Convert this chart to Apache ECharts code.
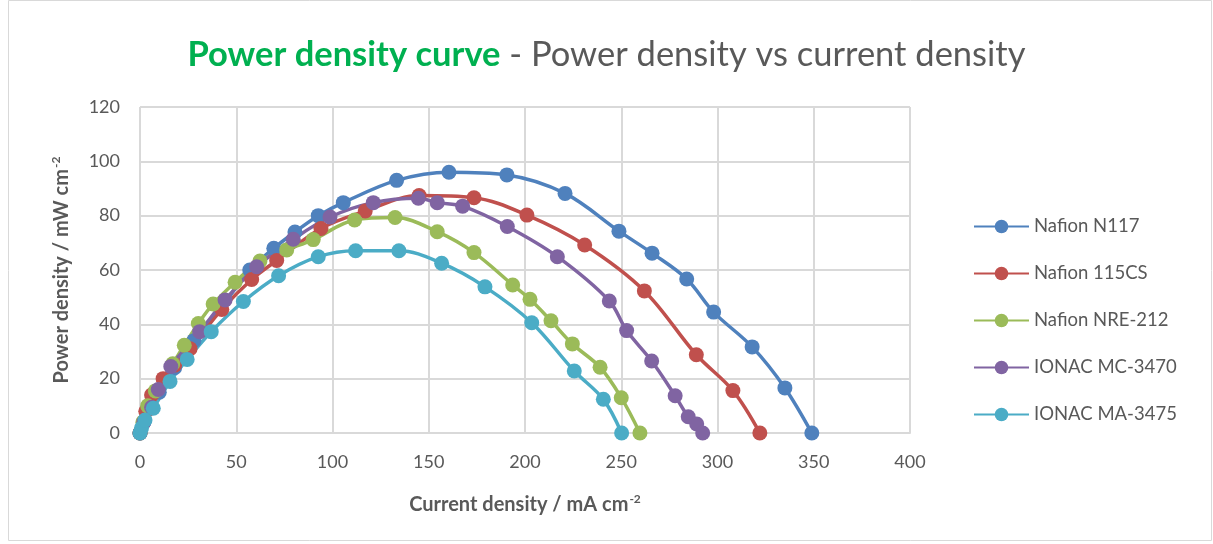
<!DOCTYPE html>
<html>
<head>
<meta charset="utf-8">
<script src="https://cdn.jsdelivr.net/npm/echarts@6/dist/echarts.min.js"></script>
<style>
	html, body { margin: 0; padding: 0; background: #fff; }
	#chart { width: 1213px; height: 544px; }
</style>
</head>
<body>
<div id="chart"></div>
<script>
var names = [ "Nafion N117", "Nafion 115CS", "Nafion NRE-212", "IONAC MC-3470", "IONAC MA-3475" ];
var colors = [ "#4F81BD", "#C0504D", "#9BBB59", "#8064A2", "#4BACC6" ];

// current density (mA cm-2) and power density (mW cm-2) per membrane
var n117X = [ 0, 2, 5, 10, 18, 28, 42, 57, 69.5, 80.5, 92.6, 105.6, 133.3, 160.5, 190.6, 220.8, 248.8, 266, 284, 298, 318, 335, 349 ];
var n117Y = [ 0, 4, 9, 15, 24, 34, 46, 60, 68, 74, 80, 84.8, 93, 96, 95, 88.2, 74.3, 66.2, 56.7, 44.5, 31.7, 16.6, 0 ];

var n115X = [ 0, 3, 6, 12, 18, 26, 42.5, 58, 71, 94, 117, 145, 173.5, 201, 231, 262, 289, 308, 322 ];
var n115Y = [ 0, 8, 14, 20, 25, 31, 45.5, 56.5, 63.5, 75.3, 81.7, 87.4, 86.6, 80.2, 69.2, 52.3, 28.8, 15.6, 0 ];

var nreX = [ 0, 1.5, 4, 8, 17, 23, 30.3, 38, 49.4, 62.3, 76.2, 90, 111.5, 132.5, 154.4, 173.5, 193.6, 202.6, 213.5, 224.6, 239, 250, 259.7 ];
var nreY = [ 0, 4, 10, 15.5, 25.5, 32.3, 40.3, 47.5, 55.5, 63.3, 67.4, 71.2, 78.4, 79.3, 74.1, 66.4, 54.5, 49.2, 41.3, 32.8, 24.2, 13, 0 ];

var mcX = [ 0, 2, 6, 9.5, 16, 31, 44.2, 60.6, 79.6, 98.7, 121.2, 144.6, 154.4, 167.6, 190.8, 216.8, 243.8, 252.8, 265.8, 278, 284.8, 289.2, 292.3 ];
var mcY = [ 0, 4, 9.5, 16, 24.5, 37.3, 49, 61.2, 71.3, 79.5, 84.8, 86.4, 84.8, 83.5, 76, 64.9, 48.6, 37.7, 26.5, 13.7, 6, 3.3, 0 ];

var maX = [ 0, 0.8, 2.6, 6.9, 15.6, 24.5, 37, 53.7, 72, 92.6, 112, 134.5, 156.7, 179.2, 203.5, 225.6, 240.7, 250.2 ];
var maY = [ 0, 1.8, 4.8, 9.1, 19, 27.1, 37.3, 48.4, 57.9, 64.9, 67.1, 67.1, 62.5, 53.8, 40.6, 22.8, 12.4, 0 ];

var xs = [ n117X, n115X, nreX, mcX, maX ];
var ys = [ n117Y, n115Y, nreY, mcY, maY ];

function pairs(x, y) {
	var out = [];
	for (var i = 0; i < x.length; i++) {
		out.push([ x[i], y[i] ]);
	}
	return out;
}

var font = "Lato, 'Open Sans', sans-serif";
var series = [];
for (var i = 0; i < names.length; i++) {
	series.push({
		name : names[i],
		type : "line",
		smooth : 0.35,
		symbol : "circle",
		symbolSize : 15,
		lineStyle : { width : 3.5, color : colors[i] },
		itemStyle : { color : colors[i] },
		data : pairs(xs[i], ys[i])
	});
}

var chart = echarts.init(document.getElementById("chart"));
chart.setOption({
	animation : false,
	color : colors,
	textStyle : { fontFamily : font },
	title : {
		text : "{g|Power density curve}{n| - Power density vs current density}",
		left : "center",
		top : 32,
		textStyle : {
			rich : {
				g : { color : "#00B050", fontWeight : "bold", fontSize : 34.5, fontFamily : font },
				n : { color : "#595959", fontWeight : "normal", fontSize : 34.5, fontFamily : font }
			}
		}
	},
	graphic : [ {
		type : "rect",
		shape : { x : 8.5, y : 0.5, width : 1203, height : 540 },
		style : { fill : "none", stroke : "#D9D9D9", lineWidth : 1 },
		silent : true
	} ],
	legend : {
		orient : "vertical",
		left : 968,
		top : 212,
		itemWidth : 55,
		itemHeight : 17,
		itemGap : 28,
		textStyle : { fontSize : 18.5, color : "#595959", fontFamily : font },
		data : names
	},
	grid : { left : 140, right : 303, top : 107, bottom : 111 },
	xAxis : {
		type : "value",
		min : 0,
		max : 400,
		interval : 50,
		name : "{b|Current density / mA cm}{s|-2}",
		nameLocation : "middle",
		nameGap : 60,
		nameTextStyle : {
			rich : {
				b : { fontSize : 20, fontWeight : "bold", color : "#595959", fontFamily : font },
				s : { fontSize : 12, fontWeight : "bold", color : "#595959", fontFamily : font, padding : [ 0, 0, 12, 1 ] }
			}
		},
		axisLine : { lineStyle : { color : "#D9D9D9", width : 2 } },
		axisTick : { show : false },
		axisLabel : { fontSize : 18, color : "#595959", margin : 20 },
		splitLine : { show : true, lineStyle : { color : "#D9D9D9", width : 2 } }
	},
	yAxis : {
		type : "value",
		min : 0,
		max : 120,
		interval : 20,
		name : "{b|Power density / mW cm}{s|-2}",
		nameLocation : "middle",
		nameGap : 66,
		nameTextStyle : {
			rich : {
				b : { fontSize : 20, fontWeight : "bold", color : "#595959", fontFamily : font },
				s : { fontSize : 12, fontWeight : "bold", color : "#595959", fontFamily : font, padding : [ 0, 0, 12, 1 ] }
			}
		},
		axisLine : { show : false },
		axisTick : { show : false },
		axisLabel : { fontSize : 18, color : "#595959", margin : 20 },
		splitLine : { lineStyle : { color : "#D9D9D9", width : 2 } }
	},
	series : series
});
window.addEventListener("resize", chart.resize);
</script>
</body>
</html>
